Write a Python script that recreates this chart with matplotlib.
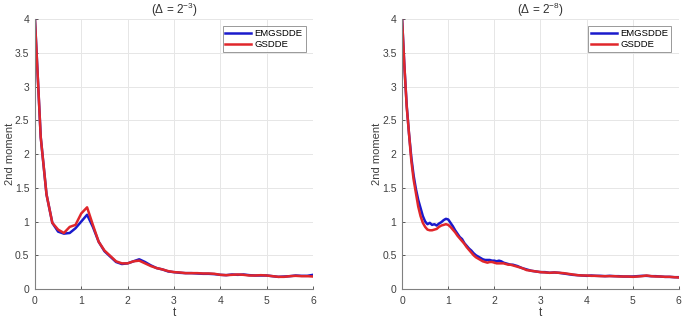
import numpy as np
import matplotlib
matplotlib.use("Agg")
import matplotlib.pyplot as plt

plt.rcParams['font.family'] = ['Liberation Sans', 'DejaVu Sans']
plt.rcParams['mathtext.fontset'] = 'custom'
plt.rcParams['mathtext.rm'] = 'Liberation Sans'
plt.rcParams['mathtext.it'] = 'Liberation Sans'

# left panel: step 2^-3
t_left = np.arange(49) * 0.125
gsdde_left = [4.0, 2.25, 1.4, 0.98, 0.88, 0.83, 0.92, 0.95, 1.12, 1.21, 0.95, 0.70,
              0.57, 0.49, 0.41, 0.38, 0.38, 0.41, 0.42, 0.38, 0.34, 0.31, 0.29, 0.265,
              0.25, 0.245, 0.235, 0.235, 0.235, 0.23, 0.23, 0.225, 0.21, 0.205, 0.21, 0.215,
              0.21, 0.2, 0.2, 0.205, 0.2, 0.19, 0.18, 0.18, 0.19, 0.195, 0.19, 0.19, 0.185]
emgsdde_left = [4.0, 2.25, 1.4, 0.98, 0.85, 0.82, 0.83, 0.9, 1.0, 1.1, 0.92, 0.70,
                0.56, 0.48, 0.40, 0.37, 0.38, 0.41, 0.44, 0.40, 0.35, 0.31, 0.29, 0.26,
                0.25, 0.24, 0.235, 0.235, 0.23, 0.225, 0.225, 0.22, 0.21, 0.205, 0.215, 0.21,
                0.215, 0.205, 0.2, 0.2, 0.2, 0.19, 0.18, 0.185, 0.19, 0.2, 0.195, 0.195, 0.21]

# right panel: step 2^-8 (read at coarser spacing)
t_right = [0, 0.05, 0.1, 0.15, 0.2, 0.25, 0.3, 0.35, 0.4, 0.45, 0.5, 0.55, 0.6, 0.65,
           0.7, 0.75, 0.8, 0.85, 0.9, 0.95, 1.0, 1.05, 1.1, 1.15, 1.2, 1.25, 1.3, 1.35,
           1.4, 1.45, 1.5, 1.55, 1.6, 1.65, 1.7, 1.75, 1.8, 1.85, 1.9, 1.95, 2.0, 2.05,
           2.1, 2.15, 2.2, 2.25, 2.3, 2.35, 2.4, 2.45, 2.5, 2.6, 2.7, 2.8, 2.9, 3.0,
           3.1, 3.2, 3.3, 3.4, 3.5, 3.6, 3.7, 3.8, 3.9, 4.0, 4.1, 4.2, 4.3, 4.4, 4.5,
           4.6, 4.7, 4.8, 4.9, 5.0, 5.1, 5.2, 5.3, 5.4, 5.5, 5.6, 5.7, 5.8, 5.9, 6.0]
gsdde_right = [4.0, 3.3, 2.7, 2.3, 1.9, 1.62, 1.42, 1.22, 1.08, 0.98, 0.92, 0.88, 0.87, 0.87,
               0.88, 0.89, 0.92, 0.94, 0.95, 0.96, 0.95, 0.92, 0.88, 0.84, 0.79, 0.75, 0.71, 0.67,
               0.62, 0.58, 0.54, 0.50, 0.47, 0.45, 0.43, 0.41, 0.40, 0.39, 0.40, 0.40, 0.39, 0.38,
               0.38, 0.38, 0.38, 0.37, 0.36, 0.36, 0.35, 0.34, 0.33, 0.31, 0.28, 0.27, 0.26, 0.25,
               0.245, 0.24, 0.245, 0.24, 0.235, 0.225, 0.215, 0.205, 0.2, 0.2, 0.195, 0.195, 0.19, 0.19, 0.19,
               0.19, 0.185, 0.185, 0.185, 0.18, 0.185, 0.19, 0.2, 0.19, 0.185, 0.185, 0.18, 0.18, 0.175, 0.17]
emgsdde_right = [4.0, 3.3, 2.72, 2.3, 1.95, 1.68, 1.48, 1.32, 1.2, 1.08, 1.0, 0.96, 0.98, 0.95,
                 0.96, 0.94, 0.97, 0.99, 1.02, 1.04, 1.03, 0.98, 0.93, 0.87, 0.82, 0.77, 0.74, 0.68,
                 0.64, 0.6, 0.57, 0.53, 0.5, 0.48, 0.46, 0.44, 0.43, 0.43, 0.43, 0.42, 0.42, 0.41,
                 0.42, 0.41, 0.39, 0.38, 0.37, 0.36, 0.36, 0.35, 0.34, 0.31, 0.29, 0.27, 0.26, 0.25,
                 0.25, 0.24, 0.245, 0.24, 0.23, 0.22, 0.21, 0.205, 0.2, 0.195, 0.2, 0.195, 0.195, 0.19, 0.195,
                 0.19, 0.19, 0.185, 0.185, 0.185, 0.19, 0.195, 0.195, 0.19, 0.19, 0.185, 0.18, 0.18, 0.175, 0.175]

blue = '#1a1acc'
red = '#e0262b'
gray = '#808080'

fig = plt.figure(figsize=(6.85, 3.21), dpi=100)
ax1 = fig.add_axes([0.051, 0.0997, 0.406, 0.841])
ax2 = fig.add_axes([0.587, 0.0997, 0.404, 0.841])

panels = [(ax1, t_left, emgsdde_left, gsdde_left, r'($\Delta$ = 2$^{-3}$)'),
          (ax2, t_right, emgsdde_right, gsdde_right, r'($\Delta$ = 2$^{-8}$)')]

for ax, t, em, gs, title in panels:
    ax.plot(t, em, color=blue, lw=1.8, label='EMGSDDE')
    ax.plot(t, gs, color=red, lw=1.8, label='GSDDE')
    ax.set_xlim(0, 6)
    ax.set_ylim(0, 4)
    ax.set_xticks(range(7))
    ax.set_yticks([0, 0.5, 1, 1.5, 2, 2.5, 3, 3.5, 4])
    ax.set_yticklabels(['0', '0.5', '1', '1.5', '2', '2.5', '3', '3.5', '4'])
    ax.grid(True, color='#e6e6e6', lw=0.7)
    ax.set_axisbelow(True)
    for s in ['top', 'right']:
        ax.spines[s].set_visible(False)
    for s in ['left', 'bottom']:
        ax.spines[s].set_color(gray)
        ax.spines[s].set_linewidth(0.8)
    ax.tick_params(colors='#404040', labelsize=7.5, length=2, width=0.6, direction='in')
    ax.tick_params(axis='x', pad=5)
    ax.tick_params(axis='y', pad=4)
    ax.set_xlabel('t', fontsize=8.5, color='#404040', labelpad=1)
    ax.set_ylabel('2nd moment', fontsize=8, color='#404040', labelpad=0)
    ax.set_title(title, fontsize=8.5, color='#303030', pad=0)
    leg = ax.legend(loc='upper right', fontsize=6.8, frameon=True, fancybox=False,
                    edgecolor='#808080', handlelength=2.7, borderpad=0.3,
                    labelspacing=0.2, handletextpad=0.4, bbox_to_anchor=(0.99, 0.99))
    leg.get_frame().set_linewidth(0.7)

fig.savefig('out.png', dpi=100)
